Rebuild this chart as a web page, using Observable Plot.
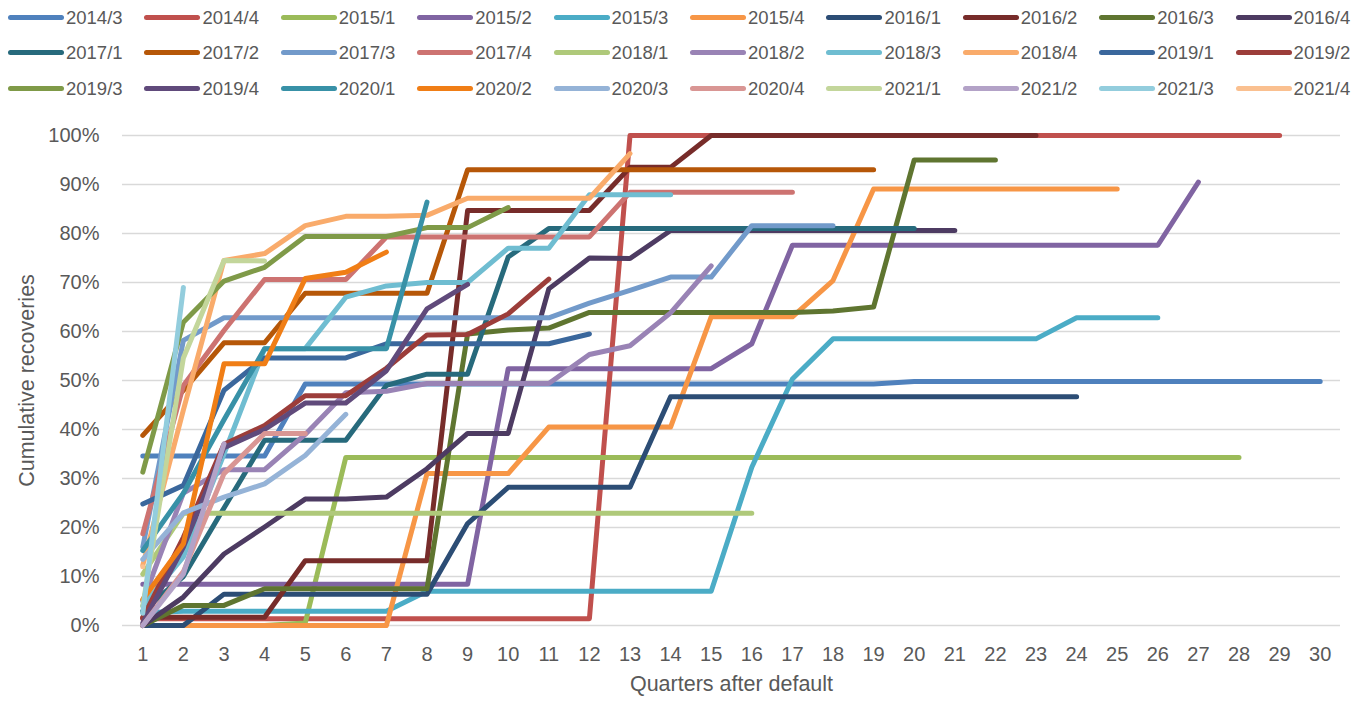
<!DOCTYPE html>
<html><head><meta charset="utf-8">
<script src="https://cdn.jsdelivr.net/npm/d3@7"></script>
<script src="https://cdn.jsdelivr.net/npm/@observablehq/plot@0.6"></script>
<style>
body{margin:0;background:#fff;font-family:"Liberation Sans",Arial,sans-serif;}
#legend{position:relative;width:1370px;height:110px;}
.item{position:absolute;height:22px;}
.sw{position:absolute;left:0;top:8px;width:56px;height:5px;border-radius:3px;}
.lbl{position:absolute;left:58px;top:0;font-size:18.5px;line-height:22px;color:#595959;white-space:nowrap;}
</style></head><body>
<div id="legend"></div>
<div id="chart"></div>
<script>
const cohorts = ["2014/3","2014/4","2015/1","2015/2","2015/3","2015/4","2016/1","2016/2","2016/3","2016/4",
  "2017/1","2017/2","2017/3","2017/4","2018/1","2018/2","2018/3","2018/4","2019/1","2019/2",
  "2019/3","2019/4","2020/1","2020/2","2020/3","2020/4","2021/1","2021/2","2021/3","2021/4"];
const colors = ["#4F81BD","#C0504D","#9BBB59","#8064A2","#4BACC6","#F79646","#2C4D75","#772C2A","#5F7530","#4D3B62",
  "#276A7C","#B65708","#729ACA","#CD7371","#AFC97A","#9983B5","#6FBDD1","#F9AB6B","#3A679C","#9C3D3A",
  "#7F9A48","#604A7B","#3891A7","#F07E16","#95B3D7","#D99694","#C3D69B","#B3A2C7","#93CDDD","#FAC090"];
const quarters = [1,2,3,4,5,6,7,8,9,10,11,12,13,14,15,16,17,18,19,20,21,22,23,24,25,26,27,28,29,30];
const yTicks = [0,10,20,30,40,50,60,70,80,90,100];

const v2014_3 = [34.6,34.6,34.6,34.6,49.3,49.3,49.3,49.3,49.3,49.3,49.3,49.3,49.3,49.3,49.3,49.3,49.3,49.3,49.3,49.8,49.8,49.8,49.8,49.8,49.8,49.8,49.8,49.8,49.8,49.8];
const v2014_4 = [1.4,1.4,1.4,1.4,1.4,1.4,1.4,1.4,1.4,1.4,1.4,1.4,100,100,100,100,100,100,100,100,100,100,100,100,100,100,100,100,100];
const v2015_1 = [0,0,0,0,0.5,34.3,34.3,34.3,34.3,34.3,34.3,34.3,34.3,34.3,34.3,34.3,34.3,34.3,34.3,34.3,34.3,34.3,34.3,34.3,34.3,34.3,34.3,34.3];
const v2015_2 = [8.4,8.4,8.4,8.4,8.4,8.4,8.4,8.4,8.4,52.4,52.4,52.4,52.4,52.4,52.4,57.5,77.6,77.6,77.6,77.6,77.6,77.6,77.6,77.6,77.6,77.6,90.5];
const v2015_3 = [2.6,2.9,2.9,2.9,2.9,2.9,2.9,7,7,7,7,7,7,7,7,32.3,50.3,58.5,58.5,58.5,58.5,58.5,58.5,62.8,62.8,62.8];
const v2015_4 = [0,0,0,0,0,0,0,31,31,31,40.5,40.5,40.5,40.5,63,63,63,70.4,89.1,89.1,89.1,89.1,89.1,89.1,89.1];
const v2016_1 = [0,0,6.4,6.4,6.4,6.4,6.4,6.4,20.8,28.2,28.2,28.2,28.2,46.7,46.7,46.7,46.7,46.7,46.7,46.7,46.7,46.7,46.7,46.7];
const v2016_2 = [1.7,1.7,1.7,1.7,13.2,13.2,13.2,13.2,84.7,84.7,84.7,84.7,93.5,93.5,100,100,100,100,100,100,100,100,100];
const v2016_3 = [0,4.1,4.1,7.5,7.5,7.5,7.5,7.5,59.5,60.3,60.7,63.9,63.9,63.9,63.9,63.9,63.9,64.2,65,95,95,95];
const v2016_4 = [0,5.8,14.6,20.1,25.8,25.8,26.2,32,39.2,39.2,68.7,75,74.9,80.6,80.6,80.6,80.6,80.6,80.6,80.6,80.6];
const v2017_1 = [3,10,24,37.8,37.8,37.8,49,51.3,51.3,75.2,81,81,81,81,81,81,81,81,81,81];
const v2017_2 = [38.8,48,57.7,57.7,67.8,67.8,67.8,67.8,93,93,93,93,93,93,93,93,93,93,93];
const v2017_3 = [16,58.2,62.8,62.8,62.8,62.8,62.8,62.8,62.8,62.8,62.8,65.8,68.4,71.1,71.1,81.6,81.6,81.6];
const v2017_4 = [18.7,49,60.2,70.6,70.6,70.6,79.3,79.3,79.3,79.3,79.3,79.3,88.4,88.4,88.4,88.4,88.4];
const v2018_1 = [10.5,22.9,22.9,22.9,22.9,22.9,22.9,22.9,22.9,22.9,22.9,22.9,22.9,22.9,22.9,22.9];
const v2018_2 = [5,27,31.8,31.8,39,47.5,47.8,49.4,49.4,49.4,49.4,55.3,57.1,63.8,73.4];
const v2018_3 = [4,14,35,56.5,56.5,67,69.3,70,70,77,77,87.9,87.9,87.9];
const v2018_4 = [12.3,44,74.5,75.9,81.6,83.5,83.5,83.7,87.2,87.2,87.2,87.2,96.3];
const v2019_1 = [24.8,28.6,48,54.6,54.6,54.6,57.5,57.5,57.5,57.5,57.5,59.5];
const v2019_2 = [1.5,18,37,40.8,46.9,46.9,52.5,59.3,59.4,63.6,70.7];
const v2019_3 = [31.3,61.9,70.3,73.1,79.4,79.4,79.4,81.2,81.2,85.3];
const v2019_4 = [0.5,16,36.3,40,45.4,45.4,52,64.6,69.6];
const v2020_1 = [15.3,27,42,56.5,56.5,56.5,56.5,86.4];
const v2020_2 = [5.3,16.7,53.4,53.4,70.8,72.1,76.2];
const v2020_3 = [13.5,23,26.2,28.9,34.7,43.1];
const v2020_4 = [0,11,31,39.2,39.2];
const v2021_1 = [4,54.6,74.5,74.4];
const v2021_2 = [0,10.5,37.1];
const v2021_3 = [2.5,69];
const v2021_4 = [12];

const seriesValues = [v2014_3,v2014_4,v2015_1,v2015_2,v2015_3,v2015_4,v2016_1,v2016_2,v2016_3,v2016_4,
  v2017_1,v2017_2,v2017_3,v2017_4,v2018_1,v2018_2,v2018_3,v2018_4,v2019_1,v2019_2,
  v2019_3,v2019_4,v2020_1,v2020_2,v2020_3,v2020_4,v2021_1,v2021_2,v2021_3,v2021_4];

const rows = [];
cohorts.forEach((c, i) => seriesValues[i].forEach((v, j) => rows.push({cohort: c, q: quarters[j], v})));

// legend
const legend = document.getElementById("legend");
const rowTops = [7, 42, 78];
cohorts.forEach((c, i) => {
  const item = document.createElement("div");
  item.className = "item";
  item.style.left = (8 + 136.4 * (i % 10)) + "px";
  item.style.top = rowTops[Math.floor(i / 10)] + "px";
  const sw = document.createElement("span"); sw.className = "sw"; sw.style.background = colors[i];
  const lb = document.createElement("span"); lb.className = "lbl"; lb.textContent = c;
  item.appendChild(sw); item.appendChild(lb);
  legend.appendChild(item);
});

const chart = Plot.plot({
  width: 1370, height: 592,
  marginLeft: 122, marginRight: 30, marginTop: 25, marginBottom: 77,
  style: {fontFamily: '"Liberation Sans", Arial, sans-serif', fontSize: "20px", color: "#595959", background: "#fff"},
  x: {type: "linear", domain: [0.5, 30.5], axis: null},
  y: {domain: [0, 100], axis: null},
  color: {domain: cohorts, range: colors},
  marks: [
    Plot.gridY(yTicks, {stroke: "#D9D9D9", strokeOpacity: 1, strokeWidth: 1.3}),
    Plot.axisY(yTicks, {tickSize: 0, tickPadding: 23, tickFormat: d => d + "%", label: null, fontSize: 20}),
    Plot.axisX(quarters, {tickSize: 0, tickPadding: 21, tickFormat: d => String(d), label: null, fontSize: 20}),
    Plot.line(rows, {x: "q", y: "v", z: "cohort", stroke: "cohort", strokeWidth: 5, strokeLinecap: "round", strokeLinejoin: "round"}),
    Plot.text(["Quarters after default"], {frameAnchor: "bottom", dy: 65, fontSize: 21.5, fill: "#595959"}),
    Plot.text(["Cumulative recoveries"], {frameAnchor: "left", textAnchor: "middle", dx: -95, rotate: -90, fontSize: 21.5, fill: "#595959"})
  ]
});
document.getElementById("chart").appendChild(chart);
</script></body></html>
